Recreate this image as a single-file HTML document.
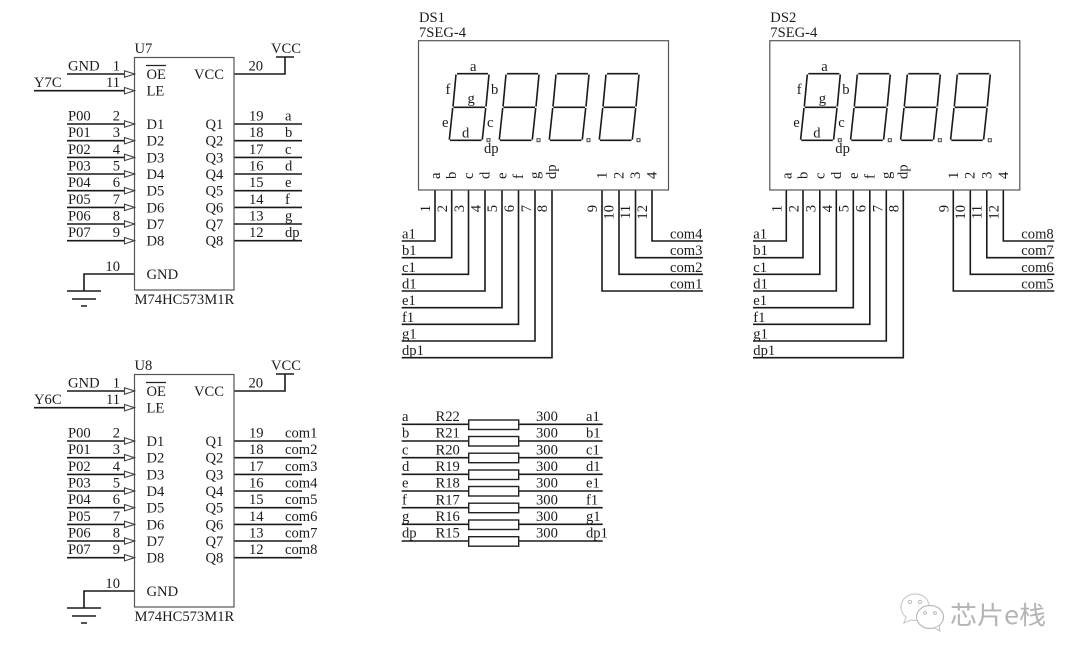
<!DOCTYPE html>
<html><head><meta charset="utf-8"><style>
html,body{margin:0;padding:0;background:#fff}
svg{display:block}
text{font-family:"Liberation Serif","Noto Serif CJK SC",serif;font-size:14.6px;fill:#1c1c1c}
.e{text-anchor:end}
.w{fill:none;stroke:#1a1a1a;stroke-width:1.6}
.b{fill:#fff;stroke:#555;stroke-width:1.2}
.a{fill:#fff;stroke:#444;stroke-width:1.1}
.s{fill:none;stroke:#1a1a1a;stroke-width:1.6}
.wm{font-family:"Noto Sans CJK SC","Liberation Sans",sans-serif;font-size:25px;fill:#b4b4b4}
</style></head><body>
<svg width="1080" height="662" viewBox="0 0 1080 662" xmlns="http://www.w3.org/2000/svg">

<!-- U7 -->
<g id="u7">
<path class="w" d="M67 74H134M34 90.7H134M67 124H134M67 140.7H134M67 157.4H134M67 174H134M67 190.7H134M67 207.4H134M67 224H134M67 240.7H134M234 124H302M234 140.7H302M234 157.4H302M234 174H302M234 190.7H302M234 207.4H302M234 224H302M234 240.7H302M234 74H285V57M276 57H294M134 274H84V291M67 291H101M72 299H96M81 306H87"/>
<rect class="b" x="134.5" y="57.5" width="99.5" height="232.5"/>
<path class="a" d="M124.5 70.8L134.5 74L124.5 77.2ZM124.5 87.5L134.5 90.7L124.5 93.9ZM124.5 120.8L134.5 124L124.5 127.2ZM124.5 137.5L134.5 140.7L124.5 143.9ZM124.5 154.2L134.5 157.4L124.5 160.6ZM124.5 170.8L134.5 174L124.5 177.2ZM124.5 187.5L134.5 190.7L124.5 193.9ZM124.5 204.2L134.5 207.4L124.5 210.6ZM124.5 220.8L134.5 224L124.5 227.2ZM124.5 237.5L134.5 240.7L124.5 243.9Z"/>
<path d="M146 65.5H166" stroke="#222" stroke-width="1.2"/>
<text x="134.5" y="53">U7</text><text x="271" y="53">VCC</text>
<text x="68" y="70.5">GND</text><text x="34" y="87">Y7C</text>
<text x="68" y="120.5">P00</text><text x="68" y="137.2">P01</text><text x="68" y="153.9">P02</text><text x="68" y="170.5">P03</text><text x="68" y="187.2">P04</text><text x="68" y="203.9">P05</text><text x="68" y="220.5">P06</text><text x="68" y="237.2">P07</text>
<text class="e" x="120" y="70.5">1</text><text class="e" x="120" y="87">11</text><text class="e" x="120" y="120.5">2</text><text class="e" x="120" y="137.2">3</text><text class="e" x="120" y="153.9">4</text><text class="e" x="120" y="170.5">5</text><text class="e" x="120" y="187.2">6</text><text class="e" x="120" y="203.9">7</text><text class="e" x="120" y="220.5">8</text><text class="e" x="120" y="237.2">9</text><text class="e" x="120" y="271">10</text>
<text x="146.5" y="79">OE</text><text x="146.5" y="95.5">LE</text>
<text x="146.5" y="129">D1</text><text x="146.5" y="145.7">D2</text><text x="146.5" y="162.4">D3</text><text x="146.5" y="179">D4</text><text x="146.5" y="195.7">D5</text><text x="146.5" y="212.4">D6</text><text x="146.5" y="229">D7</text><text x="146.5" y="245.7">D8</text><text x="146.5" y="279">GND</text>
<text x="194" y="79">VCC</text>
<text x="205.5" y="129">Q1</text><text x="205.5" y="145.7">Q2</text><text x="205.5" y="162.4">Q3</text><text x="205.5" y="179">Q4</text><text x="205.5" y="195.7">Q5</text><text x="205.5" y="212.4">Q6</text><text x="205.5" y="229">Q7</text><text x="205.5" y="245.7">Q8</text>
<text x="248.5" y="70.5">20</text>
<text x="249" y="120.5">19</text><text x="249" y="137.2">18</text><text x="249" y="153.9">17</text><text x="249" y="170.5">16</text><text x="249" y="187.2">15</text><text x="249" y="203.9">14</text><text x="249" y="220.5">13</text><text x="249" y="237.2">12</text>
<text x="285" y="120.5">a</text><text x="285" y="137.2">b</text><text x="285" y="153.9">c</text><text x="285" y="170.5">d</text><text x="285" y="187.2">e</text><text x="285" y="203.9">f</text><text x="285" y="220.5">g</text><text x="285" y="237.2">dp</text>
<text x="134.5" y="304">M74HC573M1R</text>
</g>

<!-- U8 -->
<g transform="translate(0,317)">
<path class="w" d="M67 74H134M34 90.7H134M67 124H134M67 140.7H134M67 157.4H134M67 174H134M67 190.7H134M67 207.4H134M67 224H134M67 240.7H134M234 124H302M234 140.7H302M234 157.4H302M234 174H302M234 190.7H302M234 207.4H302M234 224H302M234 240.7H302M234 74H285V57M276 57H294M134 274H84V291M67 291H101M72 299H96M81 306H87"/>
<rect class="b" x="134.5" y="57.5" width="99.5" height="232.5"/>
<path class="a" d="M124.5 70.8L134.5 74L124.5 77.2ZM124.5 87.5L134.5 90.7L124.5 93.9ZM124.5 120.8L134.5 124L124.5 127.2ZM124.5 137.5L134.5 140.7L124.5 143.9ZM124.5 154.2L134.5 157.4L124.5 160.6ZM124.5 170.8L134.5 174L124.5 177.2ZM124.5 187.5L134.5 190.7L124.5 193.9ZM124.5 204.2L134.5 207.4L124.5 210.6ZM124.5 220.8L134.5 224L124.5 227.2ZM124.5 237.5L134.5 240.7L124.5 243.9Z"/>
<path d="M146 65.5H166" stroke="#222" stroke-width="1.2"/>
<text x="134.5" y="53">U8</text><text x="271" y="53">VCC</text>
<text x="68" y="70.5">GND</text><text x="34" y="87">Y6C</text>
<text x="68" y="120.5">P00</text><text x="68" y="137.2">P01</text><text x="68" y="153.9">P02</text><text x="68" y="170.5">P03</text><text x="68" y="187.2">P04</text><text x="68" y="203.9">P05</text><text x="68" y="220.5">P06</text><text x="68" y="237.2">P07</text>
<text class="e" x="120" y="70.5">1</text><text class="e" x="120" y="87">11</text><text class="e" x="120" y="120.5">2</text><text class="e" x="120" y="137.2">3</text><text class="e" x="120" y="153.9">4</text><text class="e" x="120" y="170.5">5</text><text class="e" x="120" y="187.2">6</text><text class="e" x="120" y="203.9">7</text><text class="e" x="120" y="220.5">8</text><text class="e" x="120" y="237.2">9</text><text class="e" x="120" y="271">10</text>
<text x="146.5" y="79">OE</text><text x="146.5" y="95.5">LE</text>
<text x="146.5" y="129">D1</text><text x="146.5" y="145.7">D2</text><text x="146.5" y="162.4">D3</text><text x="146.5" y="179">D4</text><text x="146.5" y="195.7">D5</text><text x="146.5" y="212.4">D6</text><text x="146.5" y="229">D7</text><text x="146.5" y="245.7">D8</text><text x="146.5" y="279">GND</text>
<text x="194" y="79">VCC</text>
<text x="205.5" y="129">Q1</text><text x="205.5" y="145.7">Q2</text><text x="205.5" y="162.4">Q3</text><text x="205.5" y="179">Q4</text><text x="205.5" y="195.7">Q5</text><text x="205.5" y="212.4">Q6</text><text x="205.5" y="229">Q7</text><text x="205.5" y="245.7">Q8</text>
<text x="248.5" y="70.5">20</text>
<text x="249" y="120.5">19</text><text x="249" y="137.2">18</text><text x="249" y="153.9">17</text><text x="249" y="170.5">16</text><text x="249" y="187.2">15</text><text x="249" y="203.9">14</text><text x="249" y="220.5">13</text><text x="249" y="237.2">12</text>
<text x="285" y="120.5">com1</text><text x="285" y="137.2">com2</text><text x="285" y="153.9">com3</text><text x="285" y="170.5">com4</text><text x="285" y="187.2">com5</text><text x="285" y="203.9">com6</text><text x="285" y="220.5">com7</text><text x="285" y="237.2">com8</text>
<text x="134.5" y="304">M74HC573M1R</text>
</g>

<!-- DS1 -->
<g>
<path class="w" d="M435 190V241H401.7M451.7 190V257.7H401.7M468.5 190V274.3H401.7M485 190V291H401.7M502 190V307.7H401.7M518.5 190V324.3H401.7M535 190V341H401.7M552 190V357.7H401.7M602 190V291H703M619 190V274.3H703M635.5 190V257.7H703M652 190V241H703"/>
<rect class="b" x="418.5" y="40.7" width="250" height="149.3"/>
<path class="s" d="M457 73.7H488M453.5 107.3H485M450 140.3H481.5M456 74.5L453 106.5M452.7 108L449.3 139.7M489 74.5L486 106.5M485.7 108L482.3 139.7"/>
<path class="s" d="M507 73.7H538M503.5 107.3H535M500 140.3H531.5M506 74.5L503 106.5M502.7 108L499.3 139.7M539 74.5L536 106.5M535.7 108L532.3 139.7"/>
<path class="s" d="M557 73.7H588M553.5 107.3H585M550 140.3H581.5M556 74.5L553 106.5M552.7 108L549.3 139.7M589 74.5L586 106.5M585.7 108L582.3 139.7"/>
<path class="s" d="M607 73.7H638M603.5 107.3H635M600 140.3H631.5M606 74.5L603 106.5M602.7 108L599.3 139.7M639 74.5L636 106.5M635.7 108L632.3 139.7"/>
<g fill="#fff" stroke="#444" stroke-width="1"><rect x="487" y="138.7" width="3" height="3"/><rect x="537" y="138.7" width="3" height="3"/><rect x="587" y="138.7" width="3" height="3"/><rect x="637" y="138.7" width="3" height="3"/></g>
<text x="419" y="22">DS1</text><text x="419" y="37">7SEG-4</text>
<text x="470" y="71">a</text><text x="445.5" y="94">f</text><text x="491" y="94">b</text><text x="467.5" y="103">g</text><text x="442" y="127">e</text><text x="487" y="127">c</text><text x="462" y="137.5">d</text><text x="484" y="153">dp</text>
<text transform="rotate(-90 440 179)" x="440" y="179">a</text><text transform="rotate(-90 456 179)" x="456" y="179">b</text><text transform="rotate(-90 473 179)" x="473" y="179">c</text><text transform="rotate(-90 489.7 179)" x="489.7" y="179">d</text><text transform="rotate(-90 506.5 179)" x="506.5" y="179">e</text><text transform="rotate(-90 523 179)" x="523" y="179">f</text><text transform="rotate(-90 539.5 179)" x="539.5" y="179">g</text><text transform="rotate(-90 556 179)" x="556" y="179">dp</text>
<text transform="rotate(-90 606.7 179)" x="606.7" y="179">1</text><text transform="rotate(-90 623.3 179)" x="623.3" y="179">2</text><text transform="rotate(-90 640 179)" x="640" y="179">3</text><text transform="rotate(-90 656.7 179)" x="656.7" y="179">4</text>
<text class="e" transform="rotate(-90 430 205)" x="430" y="205">1</text><text class="e" transform="rotate(-90 447 205)" x="447" y="205">2</text><text class="e" transform="rotate(-90 464 205)" x="464" y="205">3</text><text class="e" transform="rotate(-90 480.7 205)" x="480.7" y="205">4</text><text class="e" transform="rotate(-90 497 205)" x="497" y="205">5</text><text class="e" transform="rotate(-90 514 205)" x="514" y="205">6</text><text class="e" transform="rotate(-90 531 205)" x="531" y="205">7</text><text class="e" transform="rotate(-90 547 205)" x="547" y="205">8</text><text class="e" transform="rotate(-90 597 205)" x="597" y="205">9</text><text class="e" transform="rotate(-90 613.6 205)" x="613.6" y="205">10</text><text class="e" transform="rotate(-90 630 205)" x="630" y="205">11</text><text class="e" transform="rotate(-90 647 205)" x="647" y="205">12</text>
<text x="402" y="238.5">a1</text><text x="402" y="255.2">b1</text><text x="402" y="271.8">c1</text><text x="402" y="288.5">d1</text><text x="402" y="305.2">e1</text><text x="402" y="321.8">f1</text><text x="402" y="338.5">g1</text><text x="402" y="355.2">dp1</text>
<text x="670" y="238.5">com4</text><text x="670" y="255.2">com3</text><text x="670" y="271.8">com2</text><text x="670" y="288.5">com1</text>
</g>

<!-- DS2 -->
<g transform="translate(351.3,0)">
<path class="w" d="M435 190V241H401.7M451.7 190V257.7H401.7M468.5 190V274.3H401.7M485 190V291H401.7M502 190V307.7H401.7M518.5 190V324.3H401.7M535 190V341H401.7M552 190V357.7H401.7M602 190V291H703M619 190V274.3H703M635.5 190V257.7H703M652 190V241H703"/>
<rect class="b" x="418.5" y="40.7" width="250" height="149.3"/>
<path class="s" d="M457 73.7H488M453.5 107.3H485M450 140.3H481.5M456 74.5L453 106.5M452.7 108L449.3 139.7M489 74.5L486 106.5M485.7 108L482.3 139.7"/>
<path class="s" d="M507 73.7H538M503.5 107.3H535M500 140.3H531.5M506 74.5L503 106.5M502.7 108L499.3 139.7M539 74.5L536 106.5M535.7 108L532.3 139.7"/>
<path class="s" d="M557 73.7H588M553.5 107.3H585M550 140.3H581.5M556 74.5L553 106.5M552.7 108L549.3 139.7M589 74.5L586 106.5M585.7 108L582.3 139.7"/>
<path class="s" d="M607 73.7H638M603.5 107.3H635M600 140.3H631.5M606 74.5L603 106.5M602.7 108L599.3 139.7M639 74.5L636 106.5M635.7 108L632.3 139.7"/>
<g fill="#fff" stroke="#444" stroke-width="1"><rect x="487" y="138.7" width="3" height="3"/><rect x="537" y="138.7" width="3" height="3"/><rect x="587" y="138.7" width="3" height="3"/><rect x="637" y="138.7" width="3" height="3"/></g>
<text x="419" y="22">DS2</text><text x="419" y="37">7SEG-4</text>
<text x="470" y="71">a</text><text x="445.5" y="94">f</text><text x="491" y="94">b</text><text x="467.5" y="103">g</text><text x="442" y="127">e</text><text x="487" y="127">c</text><text x="462" y="137.5">d</text><text x="484" y="153">dp</text>
<text transform="rotate(-90 440 179)" x="440" y="179">a</text><text transform="rotate(-90 456 179)" x="456" y="179">b</text><text transform="rotate(-90 473 179)" x="473" y="179">c</text><text transform="rotate(-90 489.7 179)" x="489.7" y="179">d</text><text transform="rotate(-90 506.5 179)" x="506.5" y="179">e</text><text transform="rotate(-90 523 179)" x="523" y="179">f</text><text transform="rotate(-90 539.5 179)" x="539.5" y="179">g</text><text transform="rotate(-90 556 179)" x="556" y="179">dp</text>
<text transform="rotate(-90 606.7 179)" x="606.7" y="179">1</text><text transform="rotate(-90 623.3 179)" x="623.3" y="179">2</text><text transform="rotate(-90 640 179)" x="640" y="179">3</text><text transform="rotate(-90 656.7 179)" x="656.7" y="179">4</text>
<text class="e" transform="rotate(-90 430 205)" x="430" y="205">1</text><text class="e" transform="rotate(-90 447 205)" x="447" y="205">2</text><text class="e" transform="rotate(-90 464 205)" x="464" y="205">3</text><text class="e" transform="rotate(-90 480.7 205)" x="480.7" y="205">4</text><text class="e" transform="rotate(-90 497 205)" x="497" y="205">5</text><text class="e" transform="rotate(-90 514 205)" x="514" y="205">6</text><text class="e" transform="rotate(-90 531 205)" x="531" y="205">7</text><text class="e" transform="rotate(-90 547 205)" x="547" y="205">8</text><text class="e" transform="rotate(-90 597 205)" x="597" y="205">9</text><text class="e" transform="rotate(-90 613.6 205)" x="613.6" y="205">10</text><text class="e" transform="rotate(-90 630 205)" x="630" y="205">11</text><text class="e" transform="rotate(-90 647 205)" x="647" y="205">12</text>
<text x="402" y="238.5">a1</text><text x="402" y="255.2">b1</text><text x="402" y="271.8">c1</text><text x="402" y="288.5">d1</text><text x="402" y="305.2">e1</text><text x="402" y="321.8">f1</text><text x="402" y="338.5">g1</text><text x="402" y="355.2">dp1</text>
<text x="670" y="238.5">com8</text><text x="670" y="255.2">com7</text><text x="670" y="271.8">com6</text><text x="670" y="288.5">com5</text>
</g>

<!-- Resistors -->
<g>
<path class="w" d="M401.7 424.3H602.7M401.7 441H602.7M401.7 457.7H602.7M401.7 474.3H602.7M401.7 491H602.7M401.7 507.7H602.7M401.7 524.3H602.7M401.7 541H602.7"/>
<g fill="#fff" stroke="#222" stroke-width="1.4"><rect x="468.7" y="420" width="50" height="9.5"/><rect x="468.7" y="436.5" width="50" height="9.5"/><rect x="468.7" y="453.2" width="50" height="9.5"/><rect x="468.7" y="470" width="50" height="9.5"/><rect x="468.7" y="486.5" width="50" height="9.5"/><rect x="468.7" y="503.2" width="50" height="9.5"/><rect x="468.7" y="520" width="50" height="9.5"/><rect x="468.7" y="536.7" width="50" height="9.5"/></g>
<text x="402" y="421">a</text><text x="402" y="437.7">b</text><text x="402" y="454.4">c</text><text x="402" y="471">d</text><text x="402" y="487.7">e</text><text x="402" y="504.4">f</text><text x="402" y="521">g</text><text x="402" y="537.7">dp</text>
<text x="435.5" y="421">R22</text><text x="435.5" y="437.7">R21</text><text x="435.5" y="454.4">R20</text><text x="435.5" y="471">R19</text><text x="435.5" y="487.7">R18</text><text x="435.5" y="504.4">R17</text><text x="435.5" y="521">R16</text><text x="435.5" y="537.7">R15</text>
<text x="536" y="421">300</text><text x="536" y="437.7">300</text><text x="536" y="454.4">300</text><text x="536" y="471">300</text><text x="536" y="487.7">300</text><text x="536" y="504.4">300</text><text x="536" y="521">300</text><text x="536" y="537.7">300</text>
<text x="586" y="421">a1</text><text x="586" y="437.7">b1</text><text x="586" y="454.4">c1</text><text x="586" y="471">d1</text><text x="586" y="487.7">e1</text><text x="586" y="504.4">f1</text><text x="586" y="521">g1</text><text x="586" y="537.7">dp1</text>
</g>

<!-- Watermark -->
<g>
<path d="M915 594c-8 0-14 6-14 13 0 4 2 8 5 10l-2 6 7-3c3 .6 6 .6 9 0" fill="#fff" stroke="#ccc" stroke-width="1.2"/>
<path d="M915 594c7 0 13 4 14 11" fill="none" stroke="#ccc" stroke-width="1.2"/>
<ellipse cx="930" cy="617" rx="13.5" ry="11.5" fill="#fff" stroke="#bbb" stroke-width="1.2"/>
<path d="M935 628l5 3-1-5" fill="#fff" stroke="#bbb" stroke-width="1"/>
<circle cx="910" cy="602" r="1.6" fill="none" stroke="#bbb"/><circle cx="920" cy="602" r="1.6" fill="none" stroke="#bbb"/><circle cx="925" cy="613" r="1.4" fill="none" stroke="#bbb"/><circle cx="935" cy="613" r="1.4" fill="none" stroke="#bbb"/>
<text class="wm" x="950" y="624" textLength="96" lengthAdjust="spacingAndGlyphs">芯片e栈</text>
</g>
</svg>
</body></html>
